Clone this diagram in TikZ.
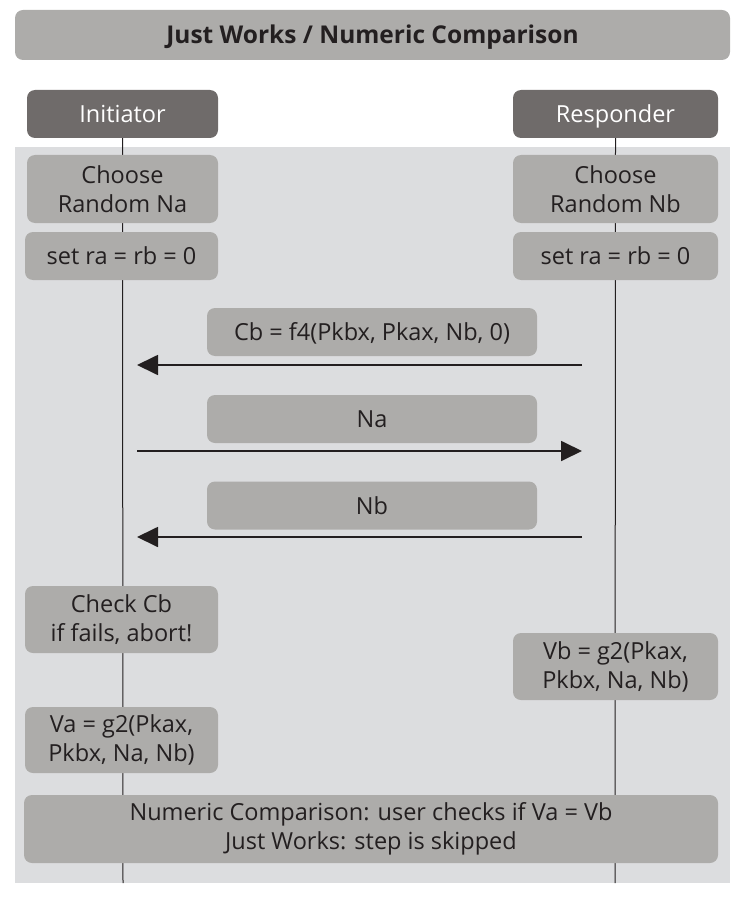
\documentclass[tikz,border=0pt]{standalone}
\usepackage{fontspec}
\setmainfont{Open Sans}
\usepackage{tikz}
\usetikzlibrary{arrows.meta}
\usetikzlibrary{positioning}
\definecolor{PanelGray}{HTML}{DCDDDF}
\definecolor{BoxGray}{HTML}{ADACAA}
\definecolor{HeadGray}{HTML}{6F6B6A}
\definecolor{InkGray}{HTML}{231F20}

\begin{document}
\begin{tikzpicture}[
		x=1pt, y=-1pt,
		MyBoxes/.style={fill=BoxGray,rounded corners=8pt,inner sep=0pt,align=center,text=InkGray,font=\fontsize{23.5}{29}\selectfont},
		OneLine/.style={text height=17pt,text depth=0pt},
		MyHeads/.style={MyBoxes,OneLine,fill=HeadGray,text=white},
		LifeLines/.style={draw=InkGray,line width=1pt},
		Messages/.style={draw=InkGray,line width=1.8pt,-{Triangle[length=21pt,width=20pt]}}
		]

		\useasboundingbox (0,0) rectangle (740,904);

		% lifelines of the two devices
		\pgfmathparse{123}		\let\Xi\pgfmathresult
		\pgfmathparse{615}		\let\Xr\pgfmathresult
		\pgfmathparse{883}		\let\Yend\pgfmathresult

		\fill[PanelGray] (15,147) rectangle (730,\Yend);

		\node[MyBoxes, OneLine, minimum width=715pt, minimum height=50pt, font=\fontsize{24.5}{29}\bfseries] (Title) at (372.5,35) {Just Works / Numeric Comparison};

		\node[MyHeads, minimum width=191pt, minimum height=48pt] (Initiator) at (122.5,114) {Initiator};
		\node[MyHeads, minimum width=205pt, minimum height=48pt] (Responder) at (615.5,114) {Responder};

		\coordinate (IEnd) at (\Xi,\Yend);
		\coordinate (REnd) at (\Xr,\Yend);
		\draw[LifeLines] (Initiator.south) -- (IEnd);
		\draw[LifeLines] (Responder.south) -- (REnd);

		\node[MyBoxes, minimum width=191pt, minimum height=68pt] (ChooseNa) at (122.5,189) {Choose\\Random Na};
		\node[MyBoxes, minimum width=205pt, minimum height=68pt] (ChooseNb) at (615.5,189) {Choose\\Random Nb};
		\node[MyBoxes, OneLine, minimum width=193pt, minimum height=48pt] (SetA) at (121.5,256) {set ra = rb = 0};
		\node[MyBoxes, OneLine, minimum width=205pt, minimum height=48pt] (SetB) at (615.5,256) {set ra = rb = 0};

		% messages between the devices
		\node[MyBoxes, OneLine, minimum width=330pt, minimum height=48pt] (MsgCb) at (372,332) {Cb = f4(Pkbx, Pkax, Nb, 0)};
		\node[MyBoxes, OneLine, minimum width=330pt, minimum height=48pt] (MsgNa) at (372,419) {Na};
		\node[MyBoxes, OneLine, minimum width=330pt, minimum height=48pt] (MsgNb) at (372,505.5) {Nb};

		\coordinate (CbFrom) at (582,365);
		\coordinate (CbTo) at (137,365);
		\coordinate (NaFrom) at (137,451);
		\coordinate (NaTo) at (582,451);
		\coordinate (NbFrom) at (582,537);
		\coordinate (NbTo) at (137,537);
		\draw[Messages] (CbFrom) -- (CbTo);
		\draw[Messages] (NaFrom) -- (NaTo);
		\draw[Messages] (NbFrom) -- (NbTo);

		\node[MyBoxes, minimum width=193pt, minimum height=67pt] (CheckCb) at (121.5,619.5) {Check Cb\\if fails, abort!};
		\node[MyBoxes, minimum width=205pt, minimum height=67pt] (CalcVb) at (615.5,666.5) {Vb = g2(Pkax,\\Pkbx, Na, Nb)};
		\node[MyBoxes, minimum width=193pt, minimum height=66pt] (CalcVa) at (121.5,740) {Va = g2(Pkax,\\Pkbx, Na, Nb)};

		\node[MyBoxes, minimum width=694pt, minimum height=68pt] (Compare) at (371,829) {Numeric Comparison: user checks if Va = Vb\\Just Works: step is skipped};

		\end{tikzpicture}
\end{document}
